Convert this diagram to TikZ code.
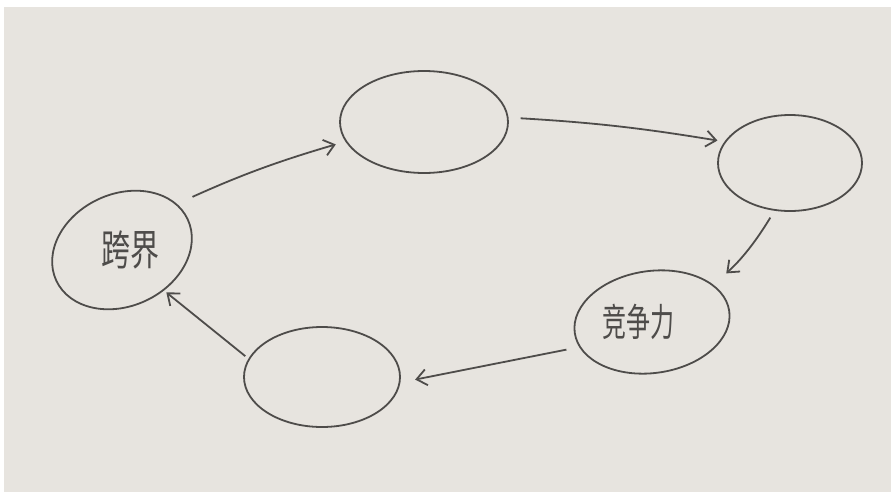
\documentclass[tikz,border=0pt]{standalone}
\usepackage{fontspec}
\newfontfamily\cjk{Noto Sans CJK SC}
\usetikzlibrary{shapes.geometric,arrows.meta}
\definecolor{paper}{RGB}{231,228,223}
\definecolor{pencil}{RGB}{78,76,74}
\tikzset{
  oval/.style={draw=pencil, line width=1.8pt, ellipse, inner sep=0pt},
  arr/.style={draw=pencil, line width=1.8pt, -{Straight Barb[length=10pt,width=16pt,line width=1.8pt]}},
  hand/.style={text=pencil, font=\cjk\fontsize{29}{29}\selectfont}
}
\begin{document}
\begin{tikzpicture}[x=1pt,y=-1pt]
\useasboundingbox (0,0) rectangle (891,493);
\fill[white] (0,0) rectangle (891,493);
\fill[paper] (4,7) rectangle (891,492);
% ovals
\node[oval, hand, minimum width=145pt, minimum height=112pt, rotate=25] (kj) at (122,250) {\rotatebox{-25}{\hspace*{16pt}\raisebox{-8pt}{\scalebox{1}[1.45]{跨界}}}};
\node[oval, minimum width=168pt, minimum height=102pt] (top) at (424,122) {};
\node[oval, minimum width=144pt, minimum height=96pt] (rt) at (790,163) {};
\node[oval, hand, font=\cjk\fontsize{24}{24}\selectfont, minimum width=156pt, minimum height=102pt, rotate=8] (jz) at (652,322) {\rotatebox{-8}{\hspace*{-28pt}\scalebox{1}[1.6]{竞争力}}};
\node[oval, minimum width=156pt, minimum height=100pt] (bl) at (322,377) {};
% connectors
\draw[arr, shorten <=17pt, shorten >=10pt] (kj.15) to[bend left=4] (top.194);
\draw[arr, shorten <=12pt, shorten >=7pt] (top.3) to[bend left=3] (rt.162);
\draw[arr, shorten <=8pt, shorten >=17pt] (rt.252) to[bend left=8] (jz.23);
\draw[arr, shorten <=13pt, shorten >=15pt] (jz.191) -- (bl.-4);
\draw[arr, shorten <=4pt, shorten >=3pt] (bl.166) -- (kj.-69);
\end{tikzpicture}
\end{document}
